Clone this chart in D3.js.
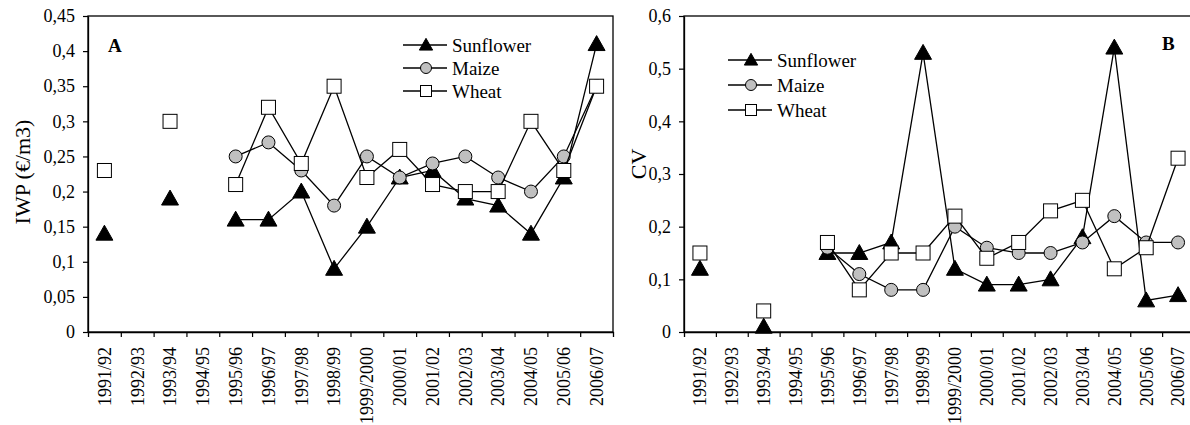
<!DOCTYPE html>
<html>
<head>
<meta charset="utf-8">
<script src="https://cdn.jsdelivr.net/npm/d3@7"></script>
<style>
  body { margin: 0; background: #fff; }
  svg text { font-family: "Liberation Serif", "Times New Roman", serif; fill: #000; }
</style>
</head>
<body>
<svg id="chart" width="1190" height="425" font-family="Liberation Serif"></svg>
<script>
'use strict';

// season labels shared by both panels
const seasons = ['1991/92', '1992/93', '1993/94', '1994/95', '1995/96', '1996/97', '1997/98', '1998/99',
  '1999/2000', '2000/01', '2001/02', '2002/03', '2003/04', '2004/05', '2005/06', '2006/07'];

// panel A - irrigation water productivity (EUR/m3)
const iwpSunflower = [0.14, null, 0.19, null, 0.16, 0.16, 0.20, 0.09, 0.15, 0.22, 0.23, 0.19, 0.18, 0.14, 0.22, 0.41];
const iwpMaize = [null, null, null, null, 0.25, 0.27, 0.23, 0.18, 0.25, 0.22, 0.24, 0.25, 0.22, 0.20, 0.25, 0.35];
const iwpWheat = [0.23, null, 0.30, null, 0.21, 0.32, 0.24, 0.35, 0.22, 0.26, 0.21, 0.20, 0.20, 0.30, 0.23, 0.35];
const iwpTicks = [0, 0.05, 0.1, 0.15, 0.2, 0.25, 0.3, 0.35, 0.4, 0.45];

// panel B - coefficient of variation
const cvSunflower = [0.12, null, 0.01, null, 0.15, 0.15, 0.17, 0.53, 0.12, 0.09, 0.09, 0.10, 0.18, 0.54, 0.06, 0.07];
const cvMaize = [null, null, null, null, 0.16, 0.11, 0.08, 0.08, 0.20, 0.16, 0.15, 0.15, 0.17, 0.22, 0.17, 0.17];
const cvWheat = [0.15, null, 0.04, null, 0.17, 0.08, 0.15, 0.15, 0.22, 0.14, 0.17, 0.23, 0.25, 0.12, 0.16, 0.33];
const cvTicks = [0, 0.1, 0.2, 0.3, 0.4, 0.5, 0.6];

const seriesNames = ['Sunflower', 'Maize', 'Wheat'];
const FONT = 'Liberation Serif';

const svg = d3.select('#chart');
svg.append('rect').attr('width', 1190).attr('height', 425).attr('fill', '#fff');

const commaFormat = v => (v === 0 ? '0' : String(+v.toFixed(2)).replace('.', ','));

// draws one marker of the given series at (0,0) inside g
function drawMarker(g, name, size) {
  if (name === 'Sunflower') {
    const s = size * 1.1;
    g.append('path')
      .attr('d', `M0,${-s * 0.55}L${s * 0.55},${s * 0.42}L${-s * 0.55},${s * 0.42}Z`)
      .attr('fill', '#000').attr('stroke', '#000').attr('stroke-width', 1);
  } else if (name === 'Maize') {
    g.append('circle').attr('r', size / 2)
      .attr('fill', '#c0c0c0').attr('stroke', '#000').attr('stroke-width', 1);
  } else {
    g.append('rect').attr('x', -size / 2).attr('y', -size / 2)
      .attr('width', size).attr('height', size)
      .attr('fill', '#fff').attr('stroke', '#000').attr('stroke-width', 1);
  }
}

function drawPanel(opts) {
  const g = svg.append('g').attr('transform', `translate(${opts.left},${opts.top})`);
  const w = opts.width;
  const h = opts.height;

  const x = d3.scaleBand().domain(seasons).range([0, w]);
  const xEdge = d3.scaleLinear().domain([0, seasons.length]).range([0, w]);
  const y = d3.scaleLinear().domain([0, opts.yMax]).range([h, 0]);

  // plot frame
  g.append('rect').attr('width', w).attr('height', h)
    .attr('fill', 'none').attr('stroke', '#000').attr('stroke-width', 1.3);

  // y axis
  const yAxis = g.append('g')
    .call(d3.axisLeft(y).tickValues(opts.ticks).tickSize(5).tickSizeOuter(0).tickFormat(commaFormat));
  yAxis.attr('font-family', FONT);
  yAxis.select('.domain').attr('stroke-width', 1.3);
  yAxis.selectAll('.tick line').attr('stroke-width', 1.2);
  yAxis.selectAll('text').attr('x', -13).style('font-size', '18px');

  // x axis tick marks sit between categories
  const xTicks = g.append('g').attr('transform', `translate(0,${h})`)
    .call(d3.axisBottom(xEdge).tickValues(d3.range(1, seasons.length)).tickSize(5).tickFormat(''));
  xTicks.select('.domain').attr('stroke-width', 1.3);
  xTicks.selectAll('.tick line').attr('stroke-width', 1.2);

  // rotated season labels
  const xLabels = g.append('g').attr('transform', `translate(0,${h})`)
    .call(d3.axisBottom(x).tickSize(0));
  xLabels.attr('font-family', FONT);
  xLabels.select('.domain').remove();
  xLabels.selectAll('text')
    .attr('transform', 'rotate(-90)')
    .attr('x', -15).attr('y', 0).attr('dy', '0.35em')
    .style('text-anchor', 'end').style('font-size', '18px');

  // y axis title
  g.append('text')
    .attr('transform', `translate(${opts.titleX},${opts.titleY}) rotate(-90)`)
    .attr('text-anchor', 'middle').attr('dy', '0.35em')
    .attr('font-family', FONT)
    .style('font-size', '22px')
    .text(opts.yTitle);

  // panel letter
  g.append('text').attr('x', opts.letterX).attr('y', opts.letterY)
    .attr('dy', '0.35em').attr('font-family', FONT)
    .style('font-size', '19px').style('font-weight', 'bold')
    .text(opts.letter);

  const line = d3.line()
    .defined(d => d != null)
    .x((d, i) => x(seasons[i]) + x.bandwidth() / 2)
    .y(d => y(d));

  opts.series.forEach((values, k) => {
    const name = seriesNames[k];
    g.append('path').datum(values)
      .attr('d', line)
      .attr('fill', 'none').attr('stroke', '#000').attr('stroke-width', 1.3);
    values.forEach((v, i) => {
      if (v == null) return;
      const m = g.append('g')
        .attr('transform', `translate(${x(seasons[i]) + x.bandwidth() / 2},${y(v)})`);
      drawMarker(m, name, name === 'Maize' ? 13 : 14);
    });
  });

  // legend
  const legend = g.append('g').attr('transform', `translate(${opts.legendX},${opts.legendY})`);
  seriesNames.forEach((name, k) => {
    const row = legend.append('g').attr('transform', `translate(0,${k * opts.legendStep})`);
    row.append('line').attr('x1', 0).attr('x2', 44).attr('stroke', '#000').attr('stroke-width', 1.3);
    drawMarker(row.append('g').attr('transform', 'translate(23,0)'), name, 11);
    row.append('text').attr('x', 49).attr('dy', '0.35em')
      .attr('font-family', FONT)
      .style('font-size', '19px').text(name);
  });
}

drawPanel({
  left: 88, top: 16, width: 525, height: 316,
  yMax: 0.45, ticks: iwpTicks,
  yTitle: 'IWP (€/m3)', titleX: -66, titleY: 156,
  letter: 'A', letterX: 20, letterY: 29,
  legendX: 315, legendY: 29, legendStep: 23,
  series: [iwpSunflower, iwpMaize, iwpWheat]
});

drawPanel({
  left: 684, top: 16, width: 510, height: 316,
  yMax: 0.6, ticks: cvTicks,
  yTitle: 'CV', titleX: -46, titleY: 148,
  letter: 'B', letterX: 478, letterY: 27,
  legendX: 44, legendY: 44, legendStep: 25,
  series: [cvSunflower, cvMaize, cvWheat]
});
</script>
</body>
</html>
